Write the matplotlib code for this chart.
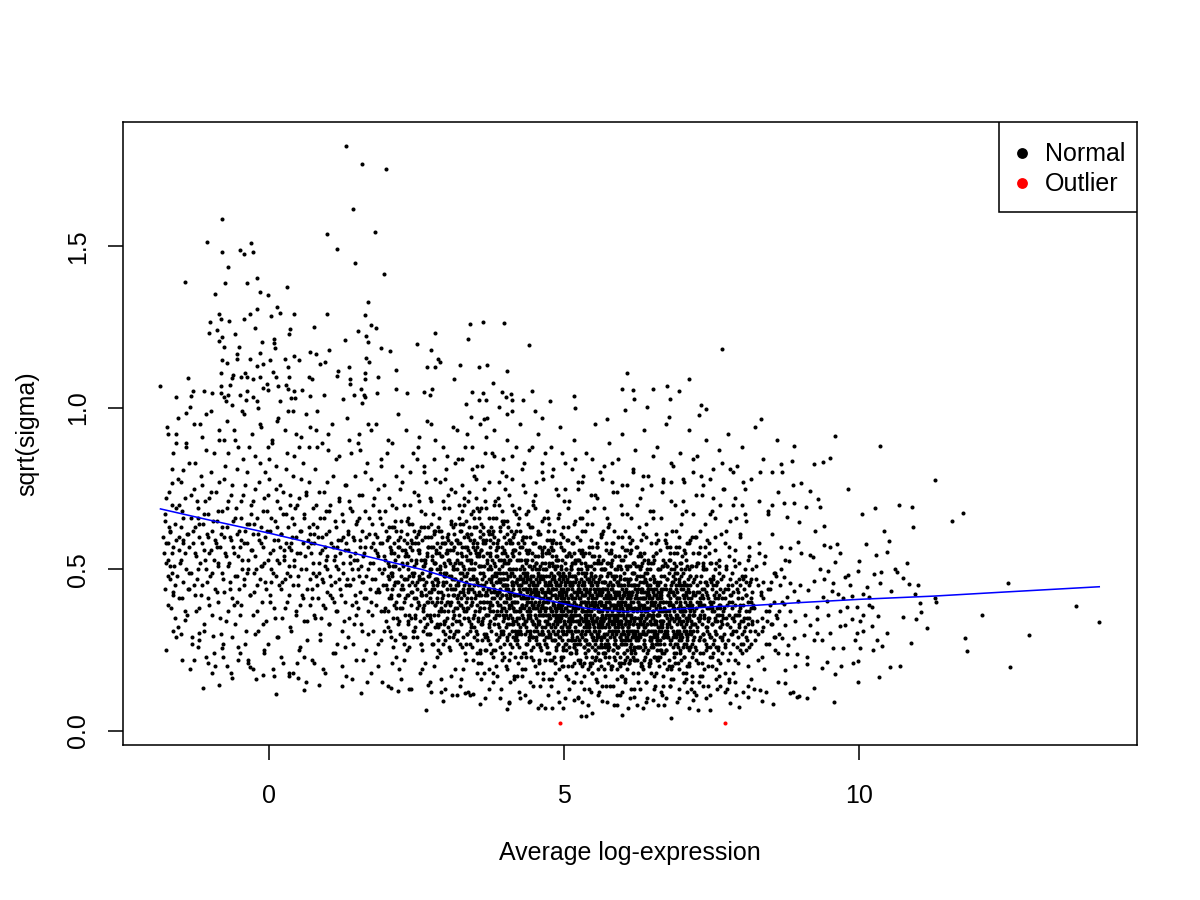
import numpy as np
import matplotlib
matplotlib.use("Agg")
import matplotlib.pyplot as plt
from matplotlib.patches import Rectangle

plt.rcParams['font.family'] = ['Liberation Sans', 'DejaVu Sans']

# ---------------- data ----------------
upper_left_sparse = [
(1.31,1.811),(1.58,1.754),(1.98,1.740),(1.42,1.615),(-0.80,1.585),(1.80,1.544),(0.98,1.538),(-1.05,1.513),
(-0.30,1.509),(-0.79,1.482),(-0.50,1.488),(-0.42,1.477),(-0.27,1.484),(1.16,1.492),(-0.70,1.437),(1.45,1.447),
(1.95,1.414),(-1.42,1.389),(-0.74,1.388),(-0.38,1.386),(-0.20,1.402),(0.30,1.374),(-0.91,1.353),(-0.16,1.360),
(-0.02,1.349),(1.68,1.327),(0.14,1.312),(-0.85,1.290),(-0.33,1.291),(-0.20,1.305),(0.19,1.295),(0.42,1.290),
(0.99,1.290),(1.62,1.288),(0.04,1.284),(-0.82,1.274),(-1.00,1.265),(-0.68,1.268),(-0.42,1.274),(1.72,1.255),
(1.82,1.246),(3.41,1.259),(0.77,1.250),(-0.23,1.246),(0.36,1.243),(-0.88,1.240),(-1.01,1.231),(-0.57,1.228),
(0.33,1.230),(1.51,1.237),(2.81,1.231),(-0.79,1.219),(0.09,1.212),(1.65,1.222),(3.37,1.212),(-0.84,1.206),
(1.29,1.209),(-0.12,1.203),(0.09,1.202),(1.68,1.203),(2.50,1.199),(-0.76,1.188),(-0.51,1.188),(0.10,1.185),
(1.89,1.185),(1.02,1.179),(0.69,1.174),(0.80,1.167),(2.05,1.176),(2.75,1.179),(-0.54,1.166),(-0.16,1.170),
(0.43,1.160),(0.50,1.148),(-0.54,1.151),(-0.32,1.151),(0.02,1.148),(0.27,1.151),(-0.80,1.148),(-0.72,1.139),
(0.94,1.143),(0.86,1.135),(1.65,1.154),(1.69,1.141),(2.86,1.152),(2.89,1.143),(3.23,1.133),(-0.11,1.136),
(-0.21,1.130),(2.68,1.126),(2.82,1.126),(0.32,1.125),(1.36,1.126),(1.17,1.115),(2.16,1.118),(-0.82,1.107),
(-0.61,1.103),(-0.40,1.109),(0.07,1.111),(1.63,1.107),(-1.37,1.092),(-0.62,1.091),(-0.47,1.094),(-0.37,1.094),
(-0.27,1.088),(-0.15,1.094),(0.11,1.095),(0.33,1.095),(0.67,1.094),(0.72,1.090),(1.16,1.099),(1.38,1.089),
(1.63,1.089),(1.84,1.095),(3.14,1.089),(-1.84,1.067),(1.38,1.073),(-0.03,1.074),(0.15,1.069),(0.29,1.071),
(-0.82,1.067),(-0.67,1.070),(-1.29,1.051),(-1.11,1.053),(-0.96,1.046),(-0.82,1.046),(-0.37,1.053),(-0.10,1.061),
(-0.01,1.056),(0.32,1.058),(0.42,1.051),(0.56,1.054),(1.56,1.059),(1.83,1.047),(2.16,1.057),(2.33,1.045),
(2.62,1.050),(2.77,1.059),(3.44,1.050),(-1.57,1.033),(-1.32,1.037),(-0.76,1.033),(-0.69,1.041),(-0.50,1.039),
(-0.28,1.033),(0.37,1.031),(0.44,1.029),(0.70,1.037),(0.93,1.039),(1.44,1.039),(1.61,1.041),(1.63,1.033),
(2.72,1.039),(0.18,1.020),(1.25,1.026),(1.57,1.016),(-0.20,1.020),(-0.39,1.024),(-0.73,1.022),
]

upper_mid_sparse = [
(3.62,1.265),(3.99,1.262),(4.41,1.194),(7.68,1.182),(3.55,1.126),(3.69,1.132),(4.04,1.113),(6.07,1.109),
(3.79,1.076),(7.12,1.089),(5.99,1.057),(6.16,1.054),(6.50,1.057),(6.75,1.069),(6.95,1.051),(3.63,1.045),
(3.95,1.048),(4.10,1.042),(4.45,1.053),(4.02,1.033),(3.56,1.024),(3.68,1.024),(4.11,1.024),(4.31,1.024),
(4.77,1.020),(5.16,1.037),(3.33,1.011),(6.18,1.026),(6.80,1.026),(3.90,1.002),(5.19,0.999),(6.04,0.993),
(6.41,1.002),(7.32,1.008),(7.41,0.996),(4.12,0.989),(4.51,0.989),(4.04,0.980),(3.43,0.971),(3.70,0.968),
(3.65,0.964),(4.62,0.967),(5.73,0.965),(6.78,0.973),(7.28,0.977),(8.34,0.964),
]

right_tail = [
(9.60,.912),(10.36,.883),(8.90,.881),(8.87,.835),(9.51,.845),(9.24,.827),(9.38,.831),(8.67,.825),
(8.69,.802),(11.28,.776),(8.88,.762),(9.01,.767),(9.82,.750),(9.16,.741),(9.30,.719),(8.73,.704),
(8.89,.704),(9.33,.694),(9.10,.694),(10.05,.671),(10.27,.689),(10.67,.698),(10.90,.692),(8.77,.663),
(11.58,.650),(11.76,.673),(8.99,.648),(10.91,.630),(9.40,.633),(9.25,.619),(10.43,.620),(10.50,.587),
(8.96,.584),(9.62,.579),(10.12,.579),(9.41,.575),(9.50,.569),(8.83,.566),(8.68,.569),(9.67,.550),
(9.17,.544),(9.02,.550),(9.22,.538),(10.47,.553),(10.29,.544),(10.00,.527),(9.59,.523),(10.82,.521),
(8.75,.529),(8.81,.527),(10.61,.500),(10.64,.491),(10.37,.491),(10.26,.484),(9.81,.483),(9.99,.495),
(9.34,.501),(9.47,.495),(10.75,.473),(10.85,.454),(10.99,.452),(10.35,.458),(10.54,.433),(12.53,.459),
(11.28,.411),(11.31,.398),(13.68,.385),(14.07,.338),(12.08,.357),(12.88,.298),(11.80,.286),(11.83,.246),
(12.56,.199),(11.15,.317),(10.88,.271),(11.05,.369),(10.97,.345),(11.03,.397),(10.95,.425),(10.75,.352),
(10.32,.355),(10.48,.302),(10.69,.202),(10.53,.196),(10.33,.168),(9.99,.152),(9.58,.090),(8.99,.107),
(8.88,.119),(9.24,.133),(8.75,.148),(9.60,.175),(9.98,.215),(9.69,.200),(9.90,.210),(9.37,.193),
(9.45,.214),(10.38,.263),(10.24,.251),(10.02,.255),(9.73,.256),(9.56,.255),(9.93,.280),(10.30,.280),
(10.06,.308),(9.96,.304),(10.22,.325),(9.68,.323),(9.76,.329),(10.02,.341),(9.88,.347),(10.07,.360),
(9.68,.372),(9.79,.384),(9.96,.382),(10.16,.390),(10.22,.382),(9.73,.411),(9.88,.417),(10.07,.423),
(10.17,.415),(9.54,.433),(9.65,.423),(9.38,.415),(9.28,.384),(9.48,.360),(9.28,.347),(9.17,.329),
(9.06,.298),(9.23,.280),(9.37,.280),(8.89,.286),(8.77,.237),(8.94,.237),(9.11,.230),(8.75,.187),
(8.92,.200),(9.11,.206),(9.40,.470),(9.23,.464),(9.00,.452),(8.89,.433),(8.77,.415),(8.97,.402),
(9.08,.360),(8.92,.341),(8.75,.329),(8.83,.372),(8.72,.476),(8.83,.458),(8.72,.394),(8.69,.286),
(8.80,.267),(9.76,.476),(9.56,.458),(9.85,.452),(10.13,.446),(9.14,.436),(9.45,.402),(9.51,.304),
(9.28,.304),
]

bottom_sparse = [
(2.66,.065),(2.94,.091),(3.58,.083),(4.03,.069),(4.56,.070),(4.68,.070),(4.80,.070),(4.99,.070),
(5.28,.047),(5.38,.045),(5.48,.055),(5.99,.048),(6.82,.040),(6.34,.070),(6.70,.080),(7.11,.070),
(7.27,.065),(7.47,.064),(7.97,.075),(8.54,.083),(8.35,.093),(8.94,.106),(5.64,.093),(5.89,.080),
(3.18,.111),(3.32,.116),(3.46,.115),(2.70,.142),(2.98,.129),(6.51,.096),(7.19,.096),(7.81,.085),
(8.12,.106),(8.32,.127),(8.83,.116),(9.11,.101),(4.06,.085),(4.25,.101),(4.42,.091),(5.16,.096),
(5.24,.106),(6.18,.106),
]

left_edge = [
(-1.12,.132),(-0.85,.142),(-0.62,.163),(0.11,.115),(0.59,.125),(0.85,.142),(1.23,.139),(1.56,.117),
(2.07,.131),(2.19,.123),(-0.11,.172),(0.33,.179),(0.49,.164),(-0.33,.199),(-1.28,.218),(-1.03,.211),
(-0.80,.255),(-0.78,.230),(-0.52,.220),(-1.57,.290),(-1.50,.300),(-1.19,.302),(-0.95,.292),(-1.43,.344),
(-1.62,.420),(-1.71,.529),(-1.64,.488),(-1.74,.581),(-1.68,.617),(-1.64,.767),(-1.73,.942),(-1.63,.860),
(-1.57,.891),(-1.46,.808),(-1.34,1.004),(-1.40,.983),
]

cloud_left = [
(-1.78,.55),(-1.75,.72),(-1.71,.48),(-1.69,.63),(-1.66,.38),(-1.64,.81),(-1.62,.57),(-1.60,.45),(-1.58,.69),(-1.55,.32),
(-1.53,.60),(-1.51,.52),(-1.49,.77),(-1.47,.41),(-1.45,.66),(-1.43,.55),(-1.41,.88),(-1.39,.36),(-1.37,.61),(-1.35,.49),
(-1.33,.73),(-1.31,.27),(-1.76,.65),(-1.68,.51),(-1.57,.92),(-1.46,.58),(-1.36,.44),(-1.52,.70),
(-1.29,.62),(-1.28,.45),(-1.26,.83),(-1.25,.55),(-1.23,.37),(-1.22,.71),(-1.20,.50),(-1.19,.64),(-1.17,.95),(-1.16,.42),
(-1.14,.58),(-1.13,.76),(-1.11,.31),(-1.10,.67),(-1.08,.53),(-1.07,.87),(-1.05,.46),(-1.04,.60),(-1.02,.72),(-1.01,.39),
(-0.99,.56),(-0.98,.80),(-0.96,.49),(-0.95,.65),(-0.93,.24),(-0.92,.59),(-0.90,.74),(-0.89,.43),(-0.87,.68),(-0.86,.52),
(-0.84,.90),(-0.83,.35),(-0.81,.61),(-1.18,.28),(-1.06,.98),(-0.97,.18),(-0.88,.57),(-1.21,.66),
(-0.79,.63),(-0.78,.47),(-0.76,.78),(-0.75,.55),(-0.73,.34),(-0.72,.69),(-0.70,.51),(-0.69,.86),(-0.67,.44),(-0.66,.60),
(-0.64,.73),(-0.63,.29),(-0.61,.57),(-0.60,.93),(-0.58,.48),(-0.57,.66),(-0.55,.40),(-0.54,.81),(-0.52,.54),(-0.51,.62),
(-0.49,.36),(-0.48,.71),(-0.46,.50),(-0.45,.99),(-0.43,.58),(-0.42,.45),(-0.40,.76),(-0.39,.31),(-0.37,.64),(-0.36,.53),
(-0.34,.88),(-0.33,.42),(-0.31,.67),(-0.71,.20),(-0.62,1.01),(-0.53,.26),(-0.44,.84),(-0.35,.22),(-0.77,.90),(-0.59,.39),
(-0.47,.59),(-0.38,.49),
(-0.29,.56),(-0.28,.71),(-0.26,.43),(-0.25,.64),(-0.23,.85),(-0.22,.50),(-0.20,.37),(-0.19,.61),(-0.17,.77),(-0.16,.47),
(-0.14,.58),(-0.13,.94),(-0.11,.33),(-0.10,.68),(-0.08,.52),(-0.07,.80),(-0.05,.44),(-0.04,.62),(-0.02,.27),(-0.01,.73),
(0.01,.55),(0.02,.40),(0.04,.66),(0.05,.89),(0.07,.49),(0.08,.59),(0.10,.35),(0.11,.75),(0.13,.53),(0.14,.63),
(0.16,.97),(0.17,.45),(0.19,.69),(-0.27,.19),(-0.18,1.00),(-0.09,.24),(0.00,.84),(0.09,.17),(0.18,.57),(-0.24,.30),
(-0.12,.51),(0.03,.46),(0.12,.82),(0.15,.29),
(0.21,.61),(0.22,.46),(0.24,.74),(0.25,.53),(0.27,.38),(0.28,.67),(0.30,.49),(0.31,.86),(0.33,.57),(0.34,.42),
(0.36,.70),(0.37,.31),(0.39,.60),(0.40,.79),(0.42,.51),(0.43,.64),(0.45,.36),(0.46,.92),(0.48,.55),(0.49,.45),
(0.51,.72),(0.52,.26),(0.54,.62),(0.55,.50),(0.57,.83),(0.58,.41),(0.60,.66),(0.61,.54),(0.63,.98),(0.64,.34),
(0.66,.59),(0.67,.77),(0.69,.47),(0.23,.21),(0.32,.99),(0.41,.18),(0.50,.88),(0.59,.23),(0.68,.63),(0.26,.56),
(0.35,.48),(0.44,.69),(0.53,.39),(0.62,.73),(0.65,.28),(0.38,.58),
]

cloud_mid = [
(0.71,.58),(0.72,.44),(0.74,.69),(0.75,.52),(0.77,.36),(0.78,.81),(0.80,.48),(0.81,.63),(0.83,.41),(0.84,.74),
(0.86,.55),(0.87,.30),(0.89,.60),(0.90,.89),(0.92,.46),(0.93,.66),(0.95,.38),(0.96,.53),(0.98,.77),(0.99,.50),
(1.01,.62),(1.02,.33),(1.04,.70),(1.05,.45),(1.07,.95),(1.08,.57),(1.10,.40),(1.11,.65),(1.13,.51),(1.14,.84),
(1.16,.27),(1.17,.59),(1.19,.47),(0.73,.22),(0.82,.99),(0.91,.19),(1.00,.87),(1.09,.24),(1.18,.72),(0.76,.61),
(0.85,.49),(0.94,.57),(1.03,.42),(1.12,.54),(0.79,.93),(0.88,.35),(0.97,.68),(1.15,.37),
(1.21,.55),(1.22,.42),(1.24,.67),(1.25,.49),(1.27,.34),(1.28,.76),(1.30,.58),(1.31,.45),(1.33,.62),(1.34,.29),
(1.36,.71),(1.37,.52),(1.39,.86),(1.40,.39),(1.42,.60),(1.43,.47),(1.45,.79),(1.46,.55),(1.48,.36),(1.49,.65),
(1.51,.50),(1.52,.92),(1.54,.43),(1.55,.59),(1.57,.31),(1.58,.73),(1.60,.54),(1.61,.41),(1.63,.68),(1.64,.48),
(1.66,.83),(1.67,.37),(1.69,.61),(1.23,.20),(1.32,.97),(1.41,.16),(1.50,.89),(1.59,.22),(1.68,.95),(1.26,.60),
(1.35,.45),(1.44,.53),(1.53,.66),(1.62,.57),(1.29,.26),(1.38,.69),(1.47,.40),(1.56,.51),(1.65,.25),(1.34,.56),
(1.44,.33),(1.58,.46),
(1.71,.52),(1.72,.40),(1.74,.64),(1.75,.47),(1.77,.31),(1.78,.72),(1.80,.56),(1.81,.43),(1.83,.60),(1.84,.27),
(1.86,.68),(1.87,.50),(1.89,.82),(1.90,.37),(1.92,.58),(1.93,.45),(1.95,.76),(1.96,.53),(1.98,.34),(1.99,.62),
(2.01,.48),(2.02,.90),(2.04,.41),(2.05,.57),(2.07,.29),(2.08,.70),(2.10,.51),(2.11,.39),(2.13,.65),(2.14,.46),
(2.16,.79),(2.17,.35),(2.19,.59),(1.73,.18),(1.82,.95),(1.91,.15),(2.00,.86),(2.09,.21),(2.18,.98),(1.76,.58),
(1.85,.44),(1.94,.50),(2.03,.63),(2.12,.55),(1.79,.24),(1.88,.66),(1.97,.38),(2.06,.49),(2.15,.23),(1.84,.54),
(1.94,.31),(2.08,.44),(2.02,.60),(1.72,.78),(2.18,.42),
(2.21,.50),(2.22,.38),(2.24,.62),(2.25,.45),(2.27,.29),(2.28,.70),(2.30,.54),(2.31,.41),(2.33,.58),(2.34,.25),
(2.36,.66),(2.37,.48),(2.39,.80),(2.40,.35),(2.42,.56),(2.43,.43),(2.45,.74),(2.46,.51),(2.48,.32),(2.49,.60),
(2.51,.46),(2.52,.88),(2.54,.39),(2.55,.55),(2.57,.27),(2.58,.68),(2.60,.49),(2.61,.37),(2.63,.63),(2.64,.44),
(2.66,.77),(2.67,.33),(2.69,.57),(2.23,.16),(2.32,.93),(2.41,.13),(2.50,.84),(2.59,.19),(2.68,.96),(2.26,.56),
(2.35,.42),(2.44,.48),(2.53,.61),(2.62,.53),(2.29,.22),(2.38,.64),(2.47,.36),(2.56,.47),(2.65,.21),(2.34,.52),
(2.44,.29),(2.58,.42),(2.52,.58),(2.22,.75),(2.68,.40),(2.28,.47),(2.40,.59),(2.49,.41),(2.61,.31),(2.36,.34),
(2.55,.71),(2.64,.52),
(2.71,.48),(2.72,.36),(2.74,.60),(2.75,.43),(2.77,.27),(2.78,.67),(2.80,.52),(2.81,.39),(2.83,.56),(2.84,.23),
(2.86,.63),(2.87,.46),(2.89,.77),(2.90,.33),(2.92,.54),(2.93,.41),(2.95,.71),(2.96,.49),(2.98,.30),(2.99,.58),
(3.01,.44),(3.02,.85),(3.04,.37),(3.05,.53),(3.07,.25),(3.08,.65),(3.10,.47),(3.11,.35),(3.13,.61),(3.14,.42),
(3.16,.74),(3.17,.31),(3.19,.55),(2.73,.15),(2.82,.90),(2.91,.12),(3.00,.81),(3.09,.17),(3.18,.93),(2.76,.54),
(2.85,.40),(2.94,.46),(3.03,.59),(3.12,.51),(2.79,.20),(2.88,.62),(2.97,.34),(3.06,.45),(3.15,.19),(2.84,.50),
(2.94,.27),(3.08,.40),(3.02,.56),(2.72,.72),(3.18,.38),(2.78,.45),(2.90,.57),(2.99,.39),(3.11,.29),(2.86,.32),
(3.05,.69),(3.14,.50),(2.75,.64),(2.81,.47),(2.92,.43),(2.97,.52),(3.03,.32),(3.09,.58),(3.16,.44),(2.88,.37),
(3.00,.49),(3.12,.63),
]

cloud_core_a = [
(3.21,.46),(3.22,.34),(3.24,.58),(3.25,.41),(3.27,.26),(3.28,.64),(3.30,.50),(3.31,.37),(3.33,.54),(3.34,.22),
(3.36,.61),(3.37,.44),(3.39,.74),(3.40,.31),(3.42,.52),(3.43,.39),(3.45,.68),(3.46,.47),(3.48,.29),(3.49,.56),
(3.51,.42),(3.52,.82),(3.54,.35),(3.55,.51),(3.57,.24),(3.58,.62),(3.60,.45),(3.61,.33),(3.63,.59),(3.64,.40),
(3.66,.71),(3.67,.30),(3.69,.53),(3.23,.14),(3.32,.88),(3.41,.11),(3.50,.78),(3.59,.16),(3.68,.91),(3.26,.52),
(3.35,.38),(3.44,.44),(3.53,.57),(3.62,.49),(3.29,.19),(3.38,.60),(3.47,.32),(3.56,.43),(3.65,.18),(3.34,.48),
(3.44,.26),(3.58,.38),(3.52,.54),(3.22,.70),(3.68,.36),(3.28,.43),(3.40,.55),(3.49,.37),(3.61,.28),(3.36,.30),
(3.55,.66),(3.64,.48),(3.25,.62),(3.31,.45),(3.42,.41),(3.47,.50),(3.53,.30),(3.59,.56),(3.66,.42),(3.38,.35),
(3.50,.47),(3.62,.61),(3.24,.39),(3.33,.27),(3.45,.58),(3.57,.40),(3.67,.25),(3.27,.49),(3.39,.45),(3.48,.63),
(3.54,.21),(3.60,.51),(3.35,.57),(3.43,.33),(3.63,.35),
(3.71,.44),(3.72,.32),(3.74,.55),(3.75,.39),(3.77,.24),(3.78,.61),(3.80,.48),(3.81,.35),(3.83,.51),(3.84,.20),
(3.86,.58),(3.87,.42),(3.89,.70),(3.90,.29),(3.92,.49),(3.93,.37),(3.95,.65),(3.96,.45),(3.98,.27),(3.99,.53),
(4.01,.40),(4.02,.79),(4.04,.33),(4.05,.48),(4.07,.22),(4.08,.59),(4.10,.43),(4.11,.31),(4.13,.56),(4.14,.38),
(4.16,.68),(4.17,.28),(4.19,.50),(3.73,.13),(3.82,.85),(3.91,.10),(4.00,.75),(4.09,.15),(4.18,.88),(3.76,.50),
(3.85,.36),(3.94,.42),(4.03,.54),(4.12,.46),(3.79,.18),(3.88,.57),(3.97,.30),(4.06,.41),(4.15,.17),(3.84,.46),
(3.94,.24),(4.08,.36),(4.02,.52),(3.72,.66),(4.18,.34),(3.78,.41),(3.90,.53),(3.99,.35),(4.11,.26),(3.86,.28),
(4.05,.63),(4.14,.45),(3.75,.59),(3.81,.43),(3.92,.39),(3.97,.47),(4.03,.29),(4.09,.53),(4.16,.40),(3.88,.33),
(4.00,.45),(4.12,.58),(3.74,.37),(3.83,.25),(3.95,.55),(4.07,.38),(4.17,.23),(3.77,.47),(3.89,.43),(3.98,.60),
(4.04,.19),(4.10,.49),(3.85,.54),(3.93,.31),(4.13,.33),(3.80,.62),(3.87,.49),(3.96,.36),(4.01,.44),(4.06,.50),
(4.15,.42),(4.19,.30),(3.71,.28),(3.91,.46),(4.11,.40),
(4.21,.42),(4.22,.30),(4.24,.53),(4.25,.37),(4.27,.23),(4.28,.59),(4.30,.46),(4.31,.33),(4.33,.49),(4.34,.19),
(4.36,.56),(4.37,.40),(4.39,.68),(4.40,.28),(4.42,.47),(4.43,.35),(4.45,.63),(4.46,.43),(4.48,.26),(4.49,.51),
(4.51,.38),(4.52,.77),(4.54,.31),(4.55,.46),(4.57,.21),(4.58,.57),(4.60,.41),(4.61,.30),(4.63,.54),(4.64,.36),
(4.66,.66),(4.67,.27),(4.69,.48),(4.23,.12),(4.32,.83),(4.41,.09),(4.50,.73),(4.59,.14),(4.68,.86),(4.26,.48),
(4.35,.34),(4.44,.40),(4.53,.52),(4.62,.44),(4.29,.17),(4.38,.55),(4.47,.29),(4.56,.39),(4.65,.16),(4.34,.44),
(4.44,.23),(4.58,.34),(4.52,.50),(4.22,.64),(4.68,.32),(4.28,.39),(4.40,.51),(4.49,.33),(4.61,.25),(4.36,.27),
(4.55,.61),(4.64,.43),(4.25,.57),(4.31,.41),(4.42,.37),(4.47,.45),(4.53,.28),(4.59,.51),(4.66,.38),(4.38,.31),
(4.50,.43),(4.62,.56),(4.24,.35),(4.33,.24),(4.45,.53),(4.57,.36),(4.67,.22),(4.27,.45),(4.39,.41),(4.48,.58),
(4.54,.18),(4.60,.47),(4.35,.52),(4.43,.30),(4.63,.31),(4.30,.60),(4.37,.47),(4.46,.34),(4.51,.42),(4.56,.48),
(4.65,.40),(4.69,.29),(4.21,.27),(4.41,.44),(4.61,.38),(4.26,.32),(4.32,.50),(4.44,.48),(4.48,.39),(4.58,.27),
(4.64,.50),(4.70,.36),(4.23,.47),(4.39,.36),(4.55,.33),
]

cloud_core_b = [
(4.71,.40),(4.72,.29),(4.74,.51),(4.75,.35),(4.77,.22),(4.78,.57),(4.80,.44),(4.81,.31),(4.83,.47),(4.84,.18),
(4.86,.54),(4.87,.38),(4.89,.66),(4.90,.27),(4.92,.45),(4.93,.34),(4.95,.61),(4.96,.41),(4.98,.25),(4.99,.49),
(5.01,.36),(5.02,.75),(5.04,.30),(5.05,.44),(5.07,.20),(5.08,.55),(5.10,.39),(5.11,.28),(5.13,.52),(5.14,.35),
(5.16,.64),(5.17,.26),(5.19,.46),(4.73,.11),(4.82,.81),(4.91,.09),(5.00,.71),(5.09,.13),(5.18,.84),(4.76,.46),
(4.85,.32),(4.94,.38),(5.03,.50),(5.12,.42),(4.79,.16),(4.88,.53),(4.97,.28),(5.06,.37),(5.15,.15),(4.84,.42),
(4.94,.22),(5.08,.32),(5.02,.48),(4.72,.62),(5.18,.31),(4.78,.37),(4.90,.49),(4.99,.31),(5.11,.24),(4.86,.26),
(5.05,.59),(5.14,.41),(4.75,.55),(4.81,.39),(4.92,.35),(4.97,.43),(5.03,.27),(5.09,.49),(5.16,.36),(4.88,.30),
(5.00,.41),(5.12,.54),(4.74,.33),(4.83,.23),(4.95,.51),(5.07,.34),(5.17,.21),(4.77,.43),(4.89,.39),(4.98,.56),
(5.04,.17),(5.10,.45),(4.85,.50),(4.93,.29),(5.13,.29),(4.80,.58),(4.87,.45),(4.96,.32),(5.01,.40),(5.06,.46),
(5.15,.38),(5.19,.28),(4.71,.26),(4.91,.42),(5.11,.36),(4.76,.30),(4.82,.48),(4.94,.46),(4.98,.37),(5.08,.26),
(5.14,.48),(5.20,.34),(4.73,.45),(4.89,.34),(5.05,.31),(4.79,.52),(4.86,.36),(4.93,.48),(5.00,.33),(5.07,.40),
(5.13,.44),(5.18,.52),(4.84,.28),(4.97,.20),(5.10,.33),
(5.21,.38),(5.22,.27),(5.24,.49),(5.25,.33),(5.27,.21),(5.28,.55),(5.30,.42),(5.31,.29),(5.33,.45),(5.34,.17),
(5.36,.52),(5.37,.36),(5.39,.64),(5.40,.25),(5.42,.43),(5.43,.32),(5.45,.59),(5.46,.39),(5.48,.23),(5.49,.47),
(5.51,.34),(5.52,.73),(5.54,.28),(5.55,.42),(5.57,.19),(5.58,.53),(5.60,.37),(5.61,.26),(5.63,.50),(5.64,.33),
(5.66,.62),(5.67,.24),(5.69,.44),(5.23,.10),(5.32,.79),(5.41,.08),(5.50,.69),(5.59,.12),(5.68,.82),(5.26,.44),
(5.35,.30),(5.44,.36),(5.53,.48),(5.62,.40),(5.29,.15),(5.38,.51),(5.47,.26),(5.56,.35),(5.65,.14),(5.34,.40),
(5.44,.20),(5.58,.30),(5.52,.46),(5.22,.60),(5.68,.29),(5.28,.35),(5.40,.47),(5.49,.29),(5.61,.22),(5.36,.24),
(5.55,.57),(5.64,.39),(5.25,.53),(5.31,.37),(5.42,.33),(5.47,.41),(5.53,.25),(5.59,.47),(5.66,.34),(5.38,.28),
(5.50,.39),(5.62,.52),(5.24,.31),(5.33,.21),(5.45,.49),(5.57,.32),(5.67,.19),(5.27,.41),(5.39,.37),(5.48,.54),
(5.54,.16),(5.60,.43),(5.35,.48),(5.43,.27),(5.63,.27),(5.30,.56),(5.37,.43),(5.46,.30),(5.51,.38),(5.56,.44),
(5.65,.36),(5.69,.26),(5.21,.24),(5.41,.40),(5.61,.34),(5.26,.28),(5.32,.46),(5.44,.44),(5.48,.35),(5.58,.24),
(5.64,.46),(5.70,.32),(5.23,.43),(5.39,.32),(5.55,.29),(5.29,.50),(5.36,.34),(5.43,.46),(5.50,.31),(5.57,.38),
(5.63,.42),(5.68,.50),(5.34,.26),(5.47,.18),(5.60,.31),(5.27,.66),(5.45,.12),(5.62,.60),(5.52,.22),
]

cloud_core_c = [
(5.71,.36),(5.73,.48),(5.74,.25),(5.76,.41),(5.77,.31),(5.79,.56),(5.80,.20),(5.82,.44),(5.83,.34),(5.85,.62),
(5.86,.28),(5.88,.39),(5.89,.16),(5.91,.51),(5.92,.37),(5.94,.45),(5.95,.23),(5.97,.70),(5.98,.32),(6.00,.42),
(6.01,.27),(6.03,.54),(6.04,.35),(6.06,.19),(6.07,.47),(6.09,.30),(6.10,.60),(6.12,.38),(6.13,.24),(6.15,.43),
(6.16,.33),(6.18,.52),(6.19,.22),(5.72,.09),(5.81,.77),(5.90,.11),(5.99,.67),(6.08,.07),(6.17,.80),(5.75,.45),
(5.84,.29),(5.93,.37),(6.02,.47),(6.11,.41),(5.78,.14),(5.87,.50),(5.96,.27),(6.05,.34),(6.14,.13),(5.83,.39),
(5.93,.21),(6.07,.29),(6.01,.45),(5.71,.58),(6.17,.30),(5.77,.34),(5.89,.46),(5.98,.28),(6.10,.21),(5.85,.23),
(6.04,.56),(6.13,.38),(5.74,.52),(5.80,.36),(5.91,.32),(5.96,.40),(6.02,.24),(6.08,.46),(6.15,.35),(5.87,.27),
(5.99,.38),(6.11,.51),(5.73,.30),(5.82,.20),(5.94,.48),(6.06,.31),(6.16,.18),(5.76,.40),(5.88,.36),(5.97,.53),
(6.03,.15),(6.09,.42),(5.84,.47),(5.92,.26),(6.12,.26),(5.79,.55),(5.86,.42),(5.95,.29),(6.00,.37),(6.05,.43),
(6.14,.35),(6.18,.25),(5.70,.23),(5.90,.39),(6.10,.33),(5.75,.27),(5.81,.45),(5.93,.43),(5.97,.34),(6.07,.23),
(6.13,.45),(6.19,.31),(5.72,.42),(5.88,.31),(6.04,.28),(5.78,.49),(5.85,.33),(5.92,.45),(5.99,.30),(6.06,.37),
(6.12,.41),(6.17,.49),(5.83,.25),(5.96,.17),(6.09,.30),(5.76,.64),(5.94,.11),(6.11,.58),(6.01,.21),
(6.21,.35),(6.22,.47),(6.24,.26),(6.25,.40),(6.27,.30),(6.28,.55),(6.30,.21),(6.31,.43),(6.33,.33),(6.34,.61),
(6.36,.27),(6.37,.38),(6.39,.15),(6.40,.50),(6.42,.36),(6.43,.44),(6.45,.22),(6.46,.68),(6.48,.31),(6.49,.41),
(6.51,.26),(6.52,.53),(6.54,.34),(6.55,.18),(6.57,.46),(6.58,.29),(6.60,.59),(6.61,.37),(6.63,.23),(6.64,.42),
(6.66,.32),(6.67,.51),(6.69,.21),(6.23,.08),(6.32,.75),(6.41,.10),(6.50,.66),(6.59,.08),(6.68,.78),(6.26,.44),
(6.35,.28),(6.44,.36),(6.53,.46),(6.62,.40),(6.29,.13),(6.38,.49),(6.47,.26),(6.56,.33),(6.65,.12),(6.34,.38),
(6.44,.20),(6.58,.28),(6.52,.44),(6.22,.57),(6.68,.29),(6.28,.33),(6.40,.45),(6.49,.27),(6.61,.20),(6.36,.22),
(6.55,.55),(6.64,.37),(6.25,.51),(6.31,.35),(6.42,.31),(6.47,.39),(6.53,.23),(6.59,.45),(6.66,.34),(6.38,.26),
(6.50,.37),(6.62,.50),(6.24,.29),(6.33,.19),(6.45,.47),(6.57,.30),(6.67,.17),(6.27,.39),(6.39,.35),(6.48,.52),
(6.54,.14),(6.60,.41),(6.35,.46),(6.43,.25),(6.63,.25),(6.30,.54),(6.37,.41),(6.46,.28),(6.51,.36),(6.56,.42),
(6.65,.34),(6.69,.24),(6.21,.22),(6.41,.38),(6.61,.32),(6.26,.26),(6.32,.44),(6.44,.42),(6.48,.33),(6.58,.22),
(6.64,.44),(6.70,.30),(6.23,.41),(6.39,.30),(6.55,.27),(6.29,.48),(6.36,.32),(6.43,.44),(6.50,.29),(6.57,.36),
]

cloud_right = [
(6.71,.36),(6.72,.25),(6.74,.47),(6.75,.31),(6.77,.20),(6.78,.53),(6.80,.40),(6.81,.28),(6.83,.43),(6.84,.16),
(6.86,.50),(6.87,.34),(6.89,.62),(6.90,.24),(6.92,.41),(6.93,.30),(6.95,.57),(6.96,.37),(6.98,.22),(6.99,.45),
(7.01,.32),(7.02,.71),(7.04,.27),(7.05,.40),(7.07,.18),(7.08,.51),(7.10,.35),(7.11,.25),(7.13,.48),(7.14,.31),
(7.16,.60),(7.17,.23),(7.19,.42),(6.73,.10),(6.82,.77),(6.91,.09),(7.00,.67),(7.09,.12),(7.18,.80),(6.76,.42),
(6.85,.29),(6.94,.34),(7.03,.46),(7.12,.38),(6.79,.14),(6.88,.49),(6.97,.25),(7.06,.33),(7.15,.13),(6.84,.38),
(6.94,.19),(7.08,.29),(7.02,.44),(6.72,.58),(7.18,.28),(6.78,.33),(6.90,.45),(6.99,.28),(7.11,.21),(6.86,.23),
(7.05,.55),(7.14,.37),(6.75,.51),(6.81,.35),(6.92,.31),(6.97,.39),(7.03,.23),(7.09,.45),(7.16,.33),(6.88,.27),
(7.00,.37),(7.12,.50),(6.74,.29),(6.83,.20),(6.95,.47),(7.07,.30),(7.17,.17),(6.77,.39),(6.89,.35),(6.98,.52),
(7.04,.15),(7.10,.41),(6.85,.46),(6.93,.26),(7.13,.26),(6.80,.55),(6.87,.42),(6.96,.29),(7.01,.36),(7.06,.42),
(7.21,.37),(7.22,.26),(7.24,.48),(7.25,.32),(7.27,.21),(7.28,.55),(7.30,.41),(7.31,.29),(7.33,.44),(7.34,.17),
(7.36,.51),(7.37,.35),(7.39,.64),(7.40,.25),(7.42,.42),(7.43,.31),(7.45,.58),(7.46,.38),(7.48,.23),(7.49,.46),
(7.51,.33),(7.52,.72),(7.54,.28),(7.55,.41),(7.57,.19),(7.58,.52),(7.60,.36),(7.61,.26),(7.63,.49),(7.64,.32),
(7.66,.61),(7.67,.24),(7.69,.43),(7.23,.11),(7.32,.79),(7.41,.10),(7.50,.68),(7.59,.13),(7.68,.83),(7.26,.43),
(7.35,.30),(7.44,.35),(7.53,.47),(7.62,.39),(7.29,.15),(7.38,.50),(7.47,.26),(7.56,.34),(7.65,.14),(7.34,.39),
(7.44,.20),(7.58,.30),(7.52,.45),(7.22,.60),(7.68,.29),(7.28,.34),(7.40,.46),(7.49,.29),(7.61,.22),(7.36,.24),
(7.55,.56),(7.64,.38),(7.25,.52),(7.31,.36),(7.42,.32),(7.47,.40),(7.53,.24),(7.59,.46),(7.66,.34),(7.38,.28),
(7.50,.38),(7.62,.51),
(7.71,.38),(7.73,.27),(7.74,.50),(7.76,.33),(7.78,.22),(7.79,.57),(7.81,.42),(7.83,.30),(7.84,.45),(7.86,.18),
(7.88,.53),(7.89,.36),(7.91,.66),(7.93,.26),(7.94,.43),(7.96,.32),(7.98,.60),(7.99,.39),(8.01,.24),(8.03,.47),
(8.04,.34),(8.06,.75),(8.08,.29),(8.09,.42),(8.11,.20),(8.13,.54),(8.14,.37),(8.16,.27),(8.18,.50),(8.19,.33),
(7.72,.12),(7.82,.81),(7.92,.11),(8.02,.70),(8.12,.14),(7.77,.44),(7.87,.31),(7.97,.36),(8.07,.48),(8.17,.40),
(7.80,.16),(7.90,.51),(8.00,.27),(8.10,.35),(7.75,.62),(7.85,.40),(7.95,.21),(8.05,.31),(8.15,.46),(7.84,.35),
(7.97,.47),(8.08,.25),
(8.21,.39),(8.23,.28),(8.25,.51),(8.27,.34),(8.29,.22),(8.31,.58),(8.33,.43),(8.35,.31),(8.37,.46),(8.39,.19),
(8.41,.54),(8.43,.37),(8.45,.67),(8.47,.27),(8.49,.44),(8.51,.33),(8.53,.61),(8.55,.40),(8.57,.25),(8.59,.48),
(8.61,.35),(8.63,.74),(8.65,.30),(8.22,.13),(8.32,.80),(8.42,.12),(8.52,.70),(8.62,.15),(8.28,.45),(8.38,.32),
(8.48,.37),(8.58,.49),(8.36,.23),(8.56,.29),
]

upper_band = [
(2.55,.91),(2.62,.82),(2.74,.95),(2.81,.78),(2.95,.88),(3.03,.73),(3.12,.94),(3.20,.84),(3.27,.76),(3.35,.92),
(3.44,.81),(3.52,.69),(3.58,.95),(3.66,.86),(3.73,.77),(3.81,.93),(3.88,.72),(3.96,.84),(4.04,.90),(4.11,.78),
(4.19,.67),(4.26,.95),(4.33,.74),(4.41,.87),(4.48,.70),(4.56,.92),(4.63,.80),(4.71,.68),(4.78,.88),(4.86,.75),
(4.93,.94),(5.01,.83),(5.08,.71),(5.16,.90),(5.23,.77),(5.31,.66),(5.38,.86),(5.46,.73),(5.53,.95),(5.61,.80),
(5.68,.69),(5.76,.89),(5.83,.74),(5.91,.84),(5.98,.92),(6.06,.76),(6.13,.66),(6.21,.87),(6.28,.72),(6.36,.93),
(6.43,.79),(6.51,.68),(6.58,.88),(6.66,.74),(6.73,.95),(6.81,.83),(6.88,.70),(6.96,.86),(7.03,.77),(7.11,.93),
(7.18,.67),(7.26,.85),(7.33,.73),(7.41,.90),(7.48,.78),(7.56,.66),(7.63,.87),(7.71,.75),(7.78,.92),(7.86,.70),
(7.93,.82),(8.01,.88),(8.08,.65),(8.16,.78),(8.23,.94),(8.31,.71),(8.38,.84),(8.46,.68),(8.53,.80),(8.61,.90),
]

# extra points, in hundredths: (x*100, y*100)
extra_left_h = [
(-179,60),(-177,44),(-176,67),(-174,52),(-172,58),(-171,39),(-170,74),(-168,47),(-167,62),(-165,55),
(-164,70),(-163,43),(-161,51),(-160,64),(-159,35),(-157,59),(-156,48),(-154,78),(-153,56),(-152,41),
(-150,63),(-149,53),(-147,68),(-146,46),(-145,59),(-143,37),(-142,72),(-140,50),(-139,61),(-138,44),
(-136,83),(-135,57),(-133,66),(-132,49),(-131,29),(-129,58),(-128,75),(-126,42),(-125,63),(-124,54),
(-122,47),(-121,69),(-119,38),(-118,60),(-117,52),(-115,79),(-114,45),(-112,64),(-111,56),(-110,33),
(-108,71),(-107,50),(-105,61),(-104,41),(-103,67),(-101,55),(-100,48),(-98,74),(-97,36),(-96,62),
(-94,53),(-93,86),(-91,44),(-90,58),(-89,65),(-87,40),(-86,51),(-84,77),(-83,57),(-82,30),
(-80,68),(-79,49),(-77,60),(-76,43),(-75,82),(-73,54),(-72,63),(-70,37),(-69,71),(-68,52),
(-66,46),(-65,59),(-63,76),(-62,41),(-61,65),(-59,55),(-58,33),(-56,69),(-55,48),(-54,61),
(-52,88),(-51,44),(-49,57),(-48,66),(-47,39),(-45,53),(-44,73),(-42,47),(-41,62),(-40,27),
(-38,58),(-37,80),(-35,50),(-34,64),(-33,42),(-31,56),(-30,70),(-28,36),(-27,61),(-26,49),
(-24,75),(-23,54),(-21,45),(-20,66),(-19,31),(-17,59),(-16,83),(-14,51),(-13,63),(-12,40),
(-10,57),(-9,72),(-7,46),(-6,60),(-5,34),(-3,68),(-2,53),(0,78),(1,42),(2,62),
(4,50),(5,90),(7,56),(8,38),(10,65),(11,48),(13,71),(14,29),(15,59),(17,52),
(18,76),(20,44),(21,61),(22,35),(24,67),(25,54),(27,47),(28,81),(29,58),(31,40),
(32,63),(34,51),(35,73),(36,32),(38,56),(39,66),(41,45),(42,85),(43,53),(45,37),
(46,60),(48,70),(49,48),(50,25),(52,62),(53,55),(55,78),(56,42),(57,58),(59,34),
(60,67),(62,50),(63,74),(64,44),(66,57),(67,88),(69,39),(70,61),
(-175,25),(-162,31),(-148,22),(-134,19),(-120,26),(-106,23),(-92,20),(-78,27),(-64,18),(-50,24),
(-36,21),(-22,16),(-8,25),(6,19),(20,23),(34,17),(48,21),(62,15),
(-171,92),(-155,97),(-141,89),(-127,95),(-113,91),(-99,99),(-85,93),(-71,96),(-57,90),(-43,98),
(-29,92),(-15,95),(-1,88),(13,96),(27,93),(41,99),(55,91),(69,94),
]

extra_mid_h = [
(71,55),(72,41),(74,64),(75,49),(77,58),(78,35),(80,70),(81,45),(83,60),(84,52),
(86,28),(87,66),(89,47),(90,56),(92,39),(93,74),(95,51),(96,61),(98,43),(99,54),
(101,33),(102,68),(104,48),(105,58),(107,41),(108,79),(110,53),(111,46),(113,63),(114,37),
(116,57),(117,50),(119,71),(120,44),(122,59),(123,31),(125,65),(126,52),(128,40),(129,56),
(131,76),(132,47),(134,61),(135,35),(137,54),(138,45),(140,68),(141,50),(143,27),(144,59),
(146,42),(147,64),(149,53),(150,38),(152,73),(153,48),(155,57),(156,33),(158,62),(159,46),
(161,55),(162,80),(164,41),(165,60),(167,50),(168,30),(170,66),(171,44),(173,57),(174,36),
(176,70),(177,52),(179,47),(180,61),(182,39),(183,55),(185,75),(186,43),(188,58),(189,28),
(191,64),(192,49),(194,54),(195,37),(197,68),(198,45),(200,59),(201,32),(203,51),(204,72),
(206,42),(207,56),(209,48),(210,26),(212,63),(213,53),(215,38),(216,69),(218,46),(219,57),
(221,34),(222,60),(224,44),(225,77),(227,51),(228,40),(230,56),(231,29),(233,65),(234,47),
(236,54),(237,36),(239,70),(240,43),(242,58),(243,49),(245,31),(246,62),(248,45),(249,53),
(251,38),(252,73),(254,48),(255,56),(257,27),(258,63),(260,42),(261,51),(263,35),(264,67),
(266,46),(267,54),(269,40),(270,60),(272,30),(273,49),(275,71),(276,44),(278,57),(279,36),
(281,52),(282,62),(284,41),(285,47),(287,25),(288,66),(290,50),(291,38),(293,58),(294,45),
(296,33),(297,69),(299,48),(300,55),(302,40),(303,61),(305,29),(306,52),(308,44),(309,75),
(311,37),(312,56),(314,47),(315,64),(317,34),(318,50),(320,42),(319,59),
(76,21),(94,18),(112,24),(130,17),(148,22),(166,15),(184,20),(202,14),(220,19),(238,13),
(256,18),(274,12),(292,16),(310,11),
(82,88),(100,92),(118,85),(136,90),(154,87),(172,93),(190,84),(208,89),(226,82),(244,86),
(262,80),(280,84),(298,78),(316,83),
]

ramp_h = [
(200,44),(201,52),(202,37),(203,60),(204,47),(205,31),(206,55),(207,41),(208,63),(209,49),
(210,35),(211,58),(212,45),(213,28),(214,51),(215,40),(216,62),(217,46),(218,33),(219,54),
(220,42),(221,57),(222,30),(223,48),(224,65),(225,38),(226,52),(227,44),(228,27),(229,59),
(230,47),(231,36),(232,55),(233,42),(234,61),(235,33),(236,50),(237,45),(238,26),(239,57),
(240,39),(241,53),(242,46),(243,64),(244,31),(245,49),(246,41),(247,58),(248,35),(249,52),
(250,44),(251,29),(252,56),(253,40),(254,62),(255,47),(256,34),(257,53),(258,43),(259,25),
(260,59),(261,38),(262,51),(263,45),(264,32),(265,60),(266,42),(267,55),(268,36),(269,48),
(270,63),(271,30),(272,50),(273,41),(274,57),(275,34),(276,46),(277,53),(278,27),(279,44),
(280,61),(281,39),(282,52),(283,47),(284,33),(285,58),(286,43),(287,36),(288,55),(289,24),
(290,49),(291,62),(292,40),(293,54),(294,31),(295,45),(296,58),(297,37),(298,51),(299,28),
(300,46),(301,60),(302,35),(303,53),(304,42),(305,26),(306,56),(307,39),(308,48),(309,64),
(310,33),(311,50),(312,44),(313,57),(314,30),(315,47),(316,38),(317,59),(318,41),(319,53),
(261,47),(263,39),(265,53),(267,30),(269,57),(271,43),(273,35),(275,50),(277,40),(279,62),
(281,32),(283,55),(285,45),(287,28),(289,51),(291,37),(293,60),(295,42),(297,48),(299,34),
(301,55),(303,40),(305,48),(307,31),(309,58),(311,42),(313,36),(315,52),(317,45),(319,28),
]

core_upper_h = [
(323,64),(327,57),(331,70),(335,61),(339,53),(343,67),(347,59),(351,72),(355,55),(359,64),
(363,58),(367,69),(371,62),(375,54),(379,66),(383,71),(387,57),(391,63),(395,68),(399,52),
(403,65),(407,59),(411,70),(415,56),(419,62),(423,66),(427,53),(431,60),(435,67),(439,55),
(443,63),(447,58),(451,69),(455,54),(459,61),(463,65),(467,52),(471,59),(475,64),(479,56),
(483,62),(487,53),(491,67),(495,57),(499,60),(503,54),(507,63),(511,51),(515,58),(519,65),
(523,53),(527,59),(531,55),(535,62),(539,50),(543,57),(547,64),(551,52),(555,58),(559,54),
(563,61),(567,50),(571,56),(575,63),(579,52),(583,58),(587,54),(591,60),(595,51),(599,57),
(603,62),(607,50),(611,55),(615,59),(619,52),(623,57),(627,63),(631,51),(635,55),(639,60),
(643,52),(647,58),(651,54),(655,61),(659,50),(663,56),(667,53),(671,59),(675,51),(679,57),
(683,62),(687,52),(691,55),(695,60),(699,50),(703,56),(707,53),(711,58),(715,51),(719,55),
(723,60),(727,52),(731,57),(735,50),(739,54),(743,59),(747,52),
]

core_centre_h = [
(401,37),(404,45),(406,30),(409,42),(412,49),(414,34),(417,40),(419,46),(422,31),(425,43),
(427,38),(430,47),(432,33),(435,41),(437,48),(440,36),(443,44),(445,29),(448,39),(450,45),
(453,32),(455,42),(458,37),(461,48),(463,30),(466,40),(468,46),(471,34),(474,43),(476,38),
(479,28),(481,44),(484,36),(486,41),(489,31),(492,47),(494,35),(497,40),(499,26),(502,43),
(504,38),(507,32),(510,45),(512,36),(515,41),(517,27),(520,39),(523,34),(525,44),(528,30),
(530,37),(533,42),(535,28),(538,35),(541,40),(543,31),(546,45),(548,34),(551,38),(553,27),
(556,42),(559,33),(561,37),(564,29),(566,44),(569,35),(571,40),(574,26),(577,36),(579,41),
(582,31),(584,38),(587,28),(589,43),(592,34),(595,39),(597,30),(600,36),(602,42),(605,27),
(607,37),(610,33),(613,40),(615,29),(618,35),(620,44),(623,31),(625,38),(628,26),(631,36),
(633,41),(636,30),(638,37),(641,33),(643,43),(646,28),(649,35),(651,39),(654,31),(656,42),
(659,27),(661,36),(664,33),(667,40),(669,29),(672,37),(674,32),(677,43),(679,27),(682,35),
(685,39),(687,30),(690,36),(692,41),(695,28),(697,34),(700,38),(703,31),(705,42),(708,26),
(710,35),(713,39),(715,30),(718,36),(720,33),
]

core_lower_h = [
(352,24),(359,21),(366,25),(373,19),(380,23),(387,17),(394,22),(401,20),(408,24),(415,16),
(422,21),(429,19),(436,23),(443,15),(450,20),(457,22),(464,18),(471,24),(478,14),(485,21),
(492,19),(499,23),(506,16),(513,20),(520,18),(527,22),(534,13),(541,19),(548,21),(555,15),
(562,20),(569,17),(576,23),(583,14),(590,19),(597,21),(604,16),(611,22),(618,13),(625,18),
(632,20),(639,15),(646,21),(653,17),(660,23),(667,14),(674,19),(681,16),(688,21),(695,13),
(702,18),(709,20),(716,15),(723,22),(730,17),(737,19),(744,14),(751,20),(758,16),(765,21),
(772,18),(779,15),
]

# dense core, columns: (x*100, [y*100 values])
core_cols_h = [
(320,[45,31]),(321,[58,40]),(322,[36,52]),(323,[49,27]),(324,[62,43]),(325,[39,55]),(326,[47,33]),(327,[54,68]),(328,[29,44]),(329,[51,38]),
(330,[42,60]),(331,[35,48]),(332,[57,24]),(333,[46,40]),(334,[65,37]),(335,[41,53]),(336,[30,49]),(337,[56,43]),(338,[38,71]),(339,[50,34]),
(340,[44,59]),(341,[27,47]),(342,[53,39]),(343,[61,32]),(344,[40,50]),(345,[48,22]),(346,[35,57]),(347,[66,45]),(348,[43,36]),(349,[52,41]),
(350,[31,55]),(351,[47,63]),(352,[39,28]),(353,[58,46]),(354,[45,34]),(355,[37,51]),(356,[54,42]),(357,[25,60]),(358,[49,38]),(359,[42,69]),
(360,[56,33]),(361,[34,47]),(362,[44,54]),(363,[63,40]),(364,[38,30]),(365,[51,45]),(366,[29,58]),(367,[46,36]),(368,[59,43]),(369,[40,52]),
(370,[42,29,55]),(371,[50,36]),(372,[33,47,61]),(373,[44,38]),(374,[57,27]),(375,[40,51,34]),(376,[46,63]),(377,[31,43]),(378,[53,39,48]),(379,[37,58]),
(380,[45,25]),(381,[41,52,33]),(382,[60,44]),(383,[35,49]),(384,[48,30,56]),(385,[43,66]),(386,[28,40]),(387,[54,46,37]),(388,[39,59]),(389,[47,32]),
(390,[36,50,43]),(391,[62,41]),(392,[44,26]),(393,[30,53,47]),(394,[51,38]),(395,[42,57]),(396,[34,45,64]),(397,[49,31]),(398,[56,40]),(399,[38,47,23]),
(400,[45,55]),(401,[32,42]),(402,[58,36,49]),(403,[41,61]),(404,[47,28]),(405,[35,44,52]),(406,[53,39]),(407,[43,33]),(408,[27,50,58]),(409,[48,41]),
(410,[39,62]),(411,[55,35,46]),(412,[33,45]),(413,[44,29]),(414,[50,54,38]),(415,[37,48]),(416,[61,42]),(417,[42,31,56]),(418,[29,46]),(419,[46,37]),
(420,[40,28,53]),(421,[47,35]),(422,[33,45,58]),(423,[42,37]),(424,[55,26,44]),(425,[38,50]),(426,[45,31,62]),(427,[30,41]),(428,[51,47,36]),(429,[39,57]),
(430,[44,24,49]),(431,[35,42]),(432,[58,38,46]),(433,[41,30]),(434,[48,53,34]),(435,[32,44]),(436,[46,60,39]),(437,[37,27]),(438,[53,43,49]),(439,[40,35]),
(440,[29,47,56]),(441,[45,38]),(442,[36,51,42]),(443,[60,31]),(444,[43,46,25]),(445,[34,39]),(446,[50,55,41]),(447,[38,33]),(448,[46,22,48]),(449,[31,44]),
(450,[42,58,36]),(451,[54,40]),(452,[35,47,29]),(453,[44,52]),(454,[27,38,45]),(455,[49,34]),(456,[39,61,43]),(457,[46,30]),(458,[33,50,40]),(459,[57,37]),
(460,[41,26,48]),(461,[36,44]),(462,[52,39,55]),(463,[43,32]),(464,[30,47,41]),(465,[48,36]),(466,[38,57,28]),(467,[45,42]),(468,[34,50,37]),(469,[55,43]),
(470,[38,27,50]),(471,[45,33,41]),(472,[31,44,56]),(473,[40,36]),(474,[52,24,46]),(475,[36,48,30]),(476,[43,59,38]),(477,[29,41,35]),(478,[49,45,32]),(479,[37,54]),
(480,[42,22,47]),(481,[33,40,51]),(482,[56,36,44]),(483,[39,28,48]),(484,[46,51,34]),(485,[30,42,38]),(486,[44,58,37]),(487,[35,25,46]),(488,[51,41,33]),(489,[38,49]),
(490,[27,45,53]),(491,[43,36,40]),(492,[34,49,29]),(493,[58,39,45]),(494,[41,44,23]),(495,[32,37,50]),(496,[48,53,39]),(497,[36,31,42]),(498,[44,20,47]),(499,[30,43]),
(500,[40,56,34]),(501,[52,38,46]),(502,[33,45,27]),(503,[42,50,36]),(504,[25,36,43]),(505,[47,32,54]),(506,[37,59,41]),(507,[44,28,39]),(508,[31,48,35]),(509,[55,35]),
(510,[39,24,46]),(511,[34,42,50]),(512,[50,37,31]),(513,[41,30,45]),(514,[28,45,39]),(515,[46,34,52]),(516,[36,55,26]),(517,[43,40,48]),(518,[32,48,37]),(519,[53,41]),
(520,[36,25,47]),(521,[43,31,39]),(522,[29,42,53]),(523,[38,34,45]),(524,[50,22,44]),(525,[34,46,28]),(526,[41,56,36]),(527,[27,39,33]),(528,[47,43,30]),(529,[35,52,40]),
(530,[40,20,45]),(531,[31,38,49]),(532,[54,34,42]),(533,[37,26,46]),(534,[44,49,32]),(535,[28,40,36]),(536,[42,55,35]),(537,[33,23,44]),(538,[49,39,31]),(539,[36,47,27]),
(540,[25,43,51]),(541,[41,34,38]),(542,[32,47,27]),(543,[55,37,43]),(544,[39,42,21]),(545,[30,35,48]),(546,[46,51,37]),(547,[34,29,40]),(548,[42,18,45]),(549,[28,41,33]),
(550,[38,54,32]),(551,[50,36,44]),(552,[31,43,25]),(553,[40,48,34]),(554,[23,34,41]),(555,[45,30,52]),(556,[35,57,39]),(557,[42,26,37]),(558,[29,46,33]),(559,[52,33,40]),
(560,[37,22,44]),(561,[32,40,48]),(562,[48,35,29]),(563,[39,28,43]),(564,[26,43,37]),(565,[44,32,50]),(566,[34,53,24]),(567,[41,38,46]),(568,[30,46,35]),(569,[50,39,27]),
(570,[35,24,46]),(571,[42,30,38]),(572,[28,41,52]),(573,[37,33,44]),(574,[49,21,43]),(575,[33,45,27]),(576,[40,55,35]),(577,[26,38,32]),(578,[46,42,29]),(579,[34,51,39]),
(580,[39,19,44]),(581,[30,37,48]),(582,[53,33,41]),(583,[36,25,45]),(584,[43,48,31]),(585,[27,39,35]),(586,[41,54,34]),(587,[32,22,43]),(588,[48,38,30]),(589,[35,46,26]),
(590,[24,42,50]),(591,[40,33,37]),(592,[31,46,26]),(593,[54,36,42]),(594,[38,41,20]),(595,[29,34,47]),(596,[45,50,36]),(597,[33,28,39]),(598,[41,17,44]),(599,[27,40,32]),
(600,[37,53,31]),(601,[49,35,43]),(602,[30,42,24]),(603,[39,47,33]),(604,[22,33,40]),(605,[44,29,51]),(606,[34,56,38]),(607,[41,25,36]),(608,[28,45,32]),(609,[51,32,39]),
(610,[36,21,43]),(611,[31,39,47]),(612,[47,34,28]),(613,[38,27,42]),(614,[25,42,36]),(615,[43,31,49]),(616,[33,52,23]),(617,[40,37,45]),(618,[29,45,34]),(619,[49,38,26]),
(620,[35,24,45]),(621,[41,30,38]),(622,[28,42,51]),(623,[37,33]),(624,[48,22,43]),(625,[32,45,28]),(626,[40,54,35]),(627,[26,38]),(628,[46,41,29]),(629,[34,50,39]),
(630,[39,20,44]),(631,[30,37]),(632,[52,33,41]),(633,[36,25,46]),(634,[43,48,31]),(635,[27,39]),(636,[41,53,34]),(637,[32,23,43]),(638,[47,37,30]),(639,[35,46]),
(640,[24,42,49]),(641,[40,33,37]),(642,[31,45]),(643,[53,36,42]),(644,[38,41,21]),(645,[29,34]),(646,[45,50,36]),(647,[33,28,40]),(648,[41,18,44]),(649,[27,40]),
(650,[37,52,31]),(651,[48,35,43]),(652,[30,42]),(653,[39,47,33]),(654,[23,34,40]),(655,[44,29]),(656,[34,55,38]),(657,[41,25,36]),(658,[28,45]),(659,[50,32,39]),
(660,[36,22,43]),(661,[31,39]),(662,[46,34,28]),(663,[38,27,42]),(664,[25,41]),(665,[43,31,48]),(666,[33,51,24]),(667,[40,37]),(668,[29,44,34]),(669,[48,38]),
(670,[38,27]),(671,[31,45,52]),(672,[44,36]),(673,[25,40]),(674,[35,57,30]),(675,[47,33]),(676,[29,42]),(677,[40,22,49]),(678,[34,37]),(679,[53,44]),
(680,[36,28,41]),(681,[45,19]),(682,[32,50]),(683,[39,35,46]),(684,[26,43]),(685,[48,31]),(686,[37,55,24]),(687,[42,38]),(688,[30,47]),(689,[35,29,44]),
(690,[51,40]),(691,[27,36]),(692,[43,49,33]),(693,[38,21]),(694,[31,45]),(695,[46,35,41]),(696,[24,39]),(697,[40,52]),(698,[33,30,48]),(699,[44,37]),
(700,[29,54]),(701,[36,42,26]),(702,[49,34]),(703,[32,45]),(704,[41,23,38]),(705,[37,50]),(706,[27,43]),(707,[45,31,35]),(708,[34,58]),(709,[39,28]),
(710,[30,44,47]),(711,[43,36]),(712,[35,20]),(713,[48,40,32]),(714,[26,45]),(715,[41,34]),(716,[33,51,39]),(717,[38,27]),(718,[46,43]),(719,[31,36,24]),
(720,[36,47]),(721,[29]),(722,[42,33]),(723,[51]),(724,[38,25]),(725,[45,40]),(726,[31]),(727,[35,55]),(728,[43,28]),(729,[39]),
(730,[24,46]),(731,[40,35]),(732,[48]),(733,[33,42]),(734,[37,21]),(735,[52,30]),(736,[41]),(737,[28,44]),(738,[36,39]),(739,[46]),
(740,[32,50]),(741,[43,27]),(742,[38]),(743,[26,45]),(744,[41,34]),(745,[55]),(746,[35,30]),(747,[47,40]),(748,[29]),(749,[39,52]),
(750,[44,23]),(751,[33,37]),(752,[40]),(753,[27,48]),(754,[37,42]),(755,[50,31]),(756,[35]),(757,[43,26]),(758,[30,45]),(759,[38]),
(760,[46,34]),(761,[25,41]),(762,[36]),(763,[42,53]),(764,[32,29]),(765,[39,44]),(766,[47]),(767,[28,36]),(768,[41,33]),(769,[35]),
(770,[37,48]),(771,[30]),(772,[44]),(773,[26,41]),(774,[35]),(775,[51]),(776,[33,39]),(777,[45]),(778,[28]),(779,[40,54]),
(780,[36]),(781,[47,24]),(782,[32]),(783,[42]),(784,[38,30]),(785,[49]),(786,[27]),(787,[43,35]),(788,[34]),(789,[56]),
(790,[39,22]),(791,[31]),(792,[46]),(793,[36,44]),(794,[29]),(795,[41]),(796,[52,33]),(797,[37]),(798,[25]),(799,[45,38]),
(800,[34]),(801,[48]),(802,[30,41]),(803,[39]),(804,[27]),(805,[44,35]),(806,[50]),(807,[32]),(808,[37,46]),(809,[42]),
(810,[28]),(811,[40,33]),(812,[53]),(813,[35]),(814,[45,26]),(815,[31]),(816,[38]),(817,[47,41]),(818,[34]),(819,[43]),
(822,[38]),(824,[31]),(826,[47]),(829,[30]),(831,[55]),(833,[42]),(836,[35]),(838,[41]),(839,[52]),(843,[27]),
(844,[34]),(846,[44]),(849,[39]),(851,[46]),(853,[33]),(856,[49]),(858,[29]),(859,[36]),(863,[24]),(864,[37]),
(866,[45]),(868,[50]),(869,[40]),
]

core_fringe_h = [
(322,66),(331,72),(339,63),(347,79),(356,68),(364,75),(373,62),(381,70),(389,77),(398,65),(406,73),(414,60),
(423,69),(431,76),(439,64),(448,71),(456,62),(464,78),(473,66),(481,59),(489,73),(498,63),(506,69),(514,58),
(523,75),(531,62),(539,68),(548,57),(556,72),(564,61),(573,66),(581,58),(589,74),(598,60),(606,67),(614,56),
(623,70),(631,59),(639,64),(648,76),(656,58),(664,66),(673,61),(681,71),(689,57),(698,64),(706,68),(714,59),
(723,73),(731,62),(739,57),(748,67),(756,60),(764,70),(773,58),(781,65),(789,72),(798,61),(806,67),(814,57),
(327,84),(344,88),(361,82),(378,86),(395,80),(412,85),(429,81),(446,88),(463,83),(480,79),(497,86),(514,81),
(531,77),(548,84),(565,78),(582,83),(599,76),(616,81),(633,79),(650,85),(667,77),(684,82),(701,78),(718,84),
(735,76),(752,81),(769,75),(786,80),(803,77),
(325,16),(338,12),(352,18),(366,10),(379,15),(393,13),(407,9),(420,17),(434,11),(448,14),(461,8),(475,16),
(489,12),(502,10),(516,15),(530,9),(543,13),(557,11),(571,14),(584,8),(598,12),(612,10),(625,15),(639,9),
(653,13),(666,11),(680,14),(694,10),(707,16),(721,12),(735,14),(748,11),(762,17),(776,13),(790,15),(803,12),
(817,16),
]

outliers = [(4.93,.023),(7.73,.024)]

trend_x = [-1.84,-1.0,0.0,1.0,2.0,2.6,3.35,4.0,4.5,5.0,5.35,5.7,6.05,6.4,6.75,7.2,7.6,8.2,9.0,10.0,11.26,12.5,14.07]
trend_y = [0.687,0.652,0.612,0.569,0.525,0.499,0.457,0.432,0.413,0.393,0.380,0.373,0.369,0.370,0.375,0.380,0.385,0.388,0.397,0.407,0.417,0.430,0.446]

x_ticks = [0, 5, 10]
y_ticks = [0.0, 0.5, 1.0, 1.5]
y_tick_labels = ["0.0", "0.5", "1.0", "1.5"]
legend_labels = ["Normal", "Outlier"]
legend_colors = ["black", "red"]

# ---------------- assemble ----------------
hund = (extra_left_h + extra_mid_h + ramp_h + core_upper_h + core_centre_h + core_lower_h
        + core_fringe_h)
hund += [(cx, cy) for cx, ys in core_cols_h for cy in ys]
normal = np.array(upper_left_sparse + upper_mid_sparse + right_tail + bottom_sparse + left_edge
                  + cloud_left + cloud_mid + cloud_core_a + cloud_core_b + cloud_core_c + cloud_right
                  + upper_band + [(a / 100.0, b / 100.0) for a, b in hund])
out = np.array(outliers)

# ---------------- figure ----------------
fig = plt.figure(figsize=(8, 6), dpi=150)
ax = fig.add_axes([123/1200, 155/900, 1014/1200, 623/900])

ax.plot(normal[:, 0], normal[:, 1], linestyle='none', marker='o', ms=1.95, mew=0,
        color='black', antialiased=False)
ax.plot(out[:, 0], out[:, 1], linestyle='none', marker='o', ms=1.95, mew=0, color='red')
ax.plot(trend_x, trend_y, color='blue', lw=0.75)

ax.set_xlim(-2.475, 14.71)
ax.set_ylim(-0.044, 1.885)
ax.set_xticks(x_ticks)
ax.set_xticklabels([str(t) for t in x_ticks])
ax.set_yticks(y_ticks)
ax.set_yticklabels(y_tick_labels, rotation=90, va='center')
ax.tick_params(direction='out', length=7.2, width=0.75, labelsize=12)
ax.tick_params(axis='x', pad=11.5)
ax.tick_params(axis='y', pad=8.6)
for s in ax.spines.values():
    s.set_linewidth(0.75)

ax.set_xlabel("Average log-expression", fontsize=12)
ax.set_ylabel("sqrt(sigma)", fontsize=12)
ax.xaxis.set_label_coords(0.5, (745 - 853) / 623)
ax.xaxis.label.set_verticalalignment('center')
ax.yaxis.set_label_coords((27 - 123) / 1014, 0.5)
ax.yaxis.label.set_verticalalignment('center')

# legend box (top right, drawn in axes fraction)
lx0 = (999 - 123) / 1014
ly0 = (745 - 212) / 623
ax.add_patch(Rectangle((lx0, ly0), 1 - lx0, 1 - ly0, transform=ax.transAxes,
                       facecolor='white', edgecolor='black', lw=0.75, zorder=5))
for i, (lab, col) in enumerate(zip(legend_labels, legend_colors)):
    yy = (745 - (153 + 30 * i)) / 623
    ax.plot([(1022 - 123) / 1014], [yy], transform=ax.transAxes, marker='o', ms=5.2,
            mew=0, color=col, linestyle='none', zorder=6, clip_on=False)
    ax.text((1045 - 123) / 1014, yy - 0.002, lab, transform=ax.transAxes, fontsize=12,
            va='center', ha='left', zorder=6)

fig.savefig("out.png", dpi=150)
